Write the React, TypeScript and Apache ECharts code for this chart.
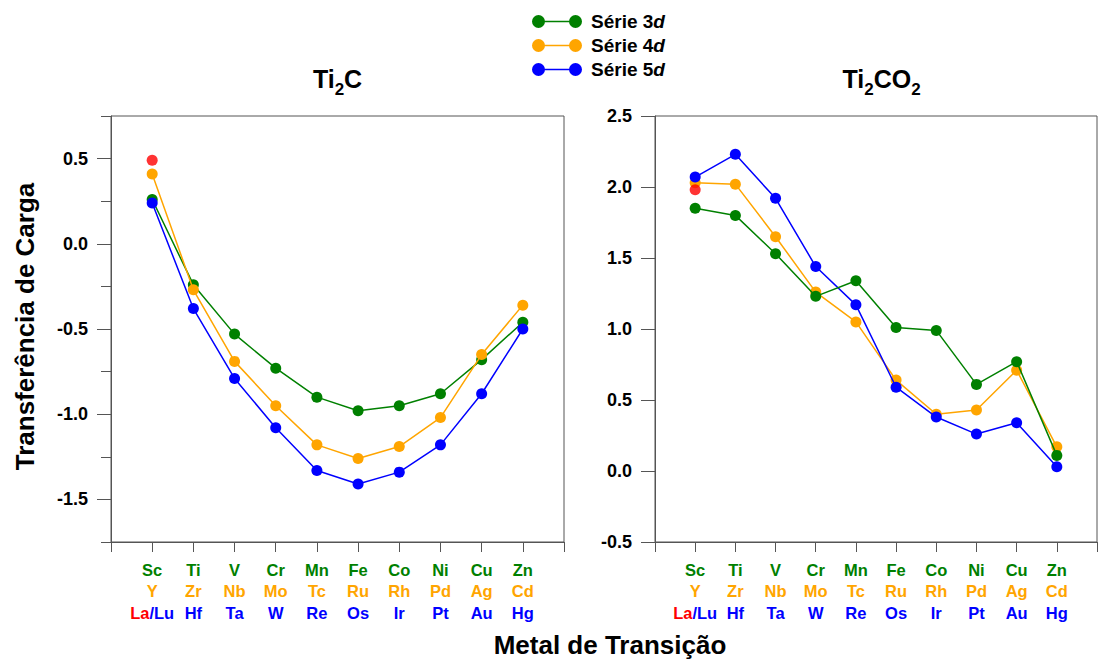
import React, { useEffect, useRef } from 'react';
import * as echarts from 'echarts';

// Transition metals of each row, listed by group (3 to 12)
const metals3d = ['Sc', 'Ti', 'V', 'Cr', 'Mn', 'Fe', 'Co', 'Ni', 'Cu', 'Zn'];
const metals4d = ['Y', 'Zr', 'Nb', 'Mo', 'Tc', 'Ru', 'Rh', 'Pd', 'Ag', 'Cd'];
const metals5d = ['Lu', 'Hf', 'Ta', 'W', 'Re', 'Os', 'Ir', 'Pt', 'Au', 'Hg'];
const lanthanum = 'La';

// Charge transfer, Ti2C
const ti2c3d = [0.26, -0.24, -0.53, -0.73, -0.9, -0.98, -0.95, -0.88, -0.68, -0.46];
const ti2c4d = [0.41, -0.27, -0.69, -0.95, -1.18, -1.26, -1.19, -1.02, -0.65, -0.36];
const ti2c5d = [0.24, -0.38, -0.79, -1.08, -1.33, -1.41, -1.34, -1.18, -0.88, -0.5];
const ti2cLa = 0.49;

// Charge transfer, Ti2CO2
const ti2co23d = [1.85, 1.8, 1.53, 1.23, 1.34, 1.01, 0.99, 0.61, 0.77, 0.11];
const ti2co24d = [2.03, 2.02, 1.65, 1.26, 1.05, 0.64, 0.4, 0.43, 0.71, 0.17];
const ti2co25d = [2.07, 2.23, 1.92, 1.44, 1.17, 0.59, 0.38, 0.26, 0.34, 0.03];
const ti2co2La = 1.98;

const seriesNames = ['Série 3d', 'Série 4d', 'Série 5d'];
const leftMajorTicks = [-1.5, -1.0, -0.5, 0.0, 0.5];

const GREEN = '#008000';
const ORANGE = '#FFA500';
const BLUE = '#0000FF';
const RED = '#FF0000';
const AXIS = '#555555';
const FONT = '"Liberation Sans", Arial, Helvetica, sans-serif';

const toPoints = (vals: number[]) => vals.map((v, i) => [i + 1, v]);

const xRow = (color: string) => ({ color, fontWeight: 'bold', fontSize: 16.5, lineHeight: 21.5, fontFamily: FONT });
const xLabelRich = { g: xRow(GREEN), o: xRow(ORANGE), b: xRow(BLUE), r: xRow(RED) };

const xLabel = (v: number) => {
  const i = Math.round(v) - 1;
  if (i < 0 || i >= metals3d.length) return '';
  const last = i === 0 ? `{r|${lanthanum}}{b|/${metals5d[i]}}` : `{b|${metals5d[i]}}`;
  return `{g|${metals3d[i]}}\n{o|${metals4d[i]}}\n${last}`;
};

const titleRich = {
  m: { fontSize: 25, fontWeight: 'bold', fontFamily: FONT, color: '#000', height: 25, verticalAlign: 'top' },
  s: { fontSize: 17, fontWeight: 'bold', fontFamily: FONT, color: '#000', height: 46, verticalAlign: 'top' },
};

// Legend glyph: a short line with a dot at each end
const legendIcon =
  'path://M0,6.5 a6.5,6.5 0 1,1 13,0 a6.5,6.5 0 1,1 -13,0 Z ' +
  'M37,6.5 a6.5,6.5 0 1,1 13,0 a6.5,6.5 0 1,1 -13,0 Z ' +
  'M12,5.75 L38,5.75 L38,7.25 L12,7.25 Z';

function xAxisFor(gridIndex: number) {
  return {
    type: 'value',
    gridIndex,
    position: 'bottom',
    min: 0,
    max: 11,
    interval: 1,
    axisLine: { show: true, onZero: false, lineStyle: { color: AXIS, width: 1 } },
    axisTick: { show: true, length: 10, lineStyle: { color: AXIS } },
    splitLine: { show: false },
    axisLabel: { formatter: xLabel, rich: xLabelRich, margin: 17, showMinLabel: true, showMaxLabel: true },
  };
}

function lineSeries(name: string, color: string, vals: number[], axisIdx: number, yIdx: number, z: number) {
  return {
    type: 'line',
    name,
    xAxisIndex: axisIdx,
    yAxisIndex: yIdx,
    data: toPoints(vals),
    symbol: 'circle',
    symbolSize: 11,
    z,
    itemStyle: { color },
    lineStyle: { color, width: 1.5 },
  };
}

export default function App() {
  const ref = useRef<HTMLDivElement>(null);

  useEffect(() => {
    if (!ref.current) return;
    const chart = echarts.init(ref.current, null, { renderer: 'svg' });
    const option = {
      animation: false,
      backgroundColor: '#ffffff',
      textStyle: { fontFamily: FONT },
      legend: {
        data: seriesNames,
        orient: 'vertical',
        left: 532,
        top: 12,
        padding: 0,
        itemWidth: 50,
        itemHeight: 13,
        itemGap: 5,
        icon: legendIcon,
        selectedMode: false,
        formatter: (n: string) => n.replace(/d$/, '') + '{i|d}',
        textStyle: {
          fontSize: 19,
          fontWeight: 'bold',
          color: '#000',
          fontFamily: FONT,
          lineHeight: 19,
          padding: [0, 0, 0, 4],
          rich: { i: { fontSize: 19, fontWeight: 'bold', fontStyle: 'italic', color: '#000', fontFamily: FONT } },
        },
      },
      grid: [
        { left: 111, top: 116, width: 453, height: 426, show: true, borderColor: AXIS, borderWidth: 1, backgroundColor: 'transparent' },
        { left: 655, top: 116, width: 453, height: 426, show: true, borderColor: AXIS, borderWidth: 1, backgroundColor: 'transparent' },
      ],
      xAxis: [xAxisFor(0), xAxisFor(1)],
      yAxis: [
        {
          type: 'value',
          gridIndex: 0,
          position: 'left',
          min: -1.75,
          max: 0.75,
          interval: 0.25,
          axisLine: { show: true, onZero: false, lineStyle: { color: AXIS } },
          axisTick: { show: true, length: 10, lineStyle: { color: AXIS } },
          splitLine: { show: false },
          axisLabel: {
            margin: 23,
            fontSize: 18,
            fontWeight: 'bold',
            color: '#000',
            fontFamily: FONT,
            formatter: (v: number) => (Math.abs(v * 2 - Math.round(v * 2)) < 1e-6 ? v.toFixed(1) : ''),
          },
        },
        {
          // longer ticks at the labelled values
          type: 'value',
          gridIndex: 0,
          position: 'left',
          offset: 0,
          min: -1.75,
          max: 0.75,
          interval: 0.25,
          axisLine: { show: false, onZero: false },
          axisTick: { show: true, length: 14, customValues: leftMajorTicks, lineStyle: { color: AXIS } },
          axisLabel: { show: false },
          splitLine: { show: false },
        },
        {
          type: 'value',
          gridIndex: 1,
          position: 'left',
          min: -0.5,
          max: 2.5,
          interval: 0.5,
          axisLine: { show: true, onZero: false, lineStyle: { color: AXIS } },
          axisTick: { show: true, length: 14, lineStyle: { color: AXIS } },
          splitLine: { show: false },
          axisLabel: {
            margin: 23,
            fontSize: 18,
            fontWeight: 'bold',
            color: '#000',
            fontFamily: FONT,
            formatter: (v: number) => v.toFixed(1),
          },
        },
      ],
      series: [
        lineSeries(seriesNames[0], GREEN, ti2c3d, 0, 0, 2),
        lineSeries(seriesNames[1], ORANGE, ti2c4d, 0, 0, 3),
        lineSeries(seriesNames[2], BLUE, ti2c5d, 0, 0, 4),
        {
          type: 'scatter',
          name: lanthanum,
          xAxisIndex: 0,
          yAxisIndex: 0,
          data: [[1, ti2cLa]],
          symbol: 'circle',
          symbolSize: 11,
          z: 5,
          itemStyle: { color: RED },
        },
        lineSeries(seriesNames[1], ORANGE, ti2co24d, 1, 2, 2),
        lineSeries(seriesNames[2], BLUE, ti2co25d, 1, 2, 3),
        lineSeries(seriesNames[0], GREEN, ti2co23d, 1, 2, 4),
        {
          type: 'scatter',
          name: lanthanum,
          xAxisIndex: 1,
          yAxisIndex: 2,
          data: [[1, ti2co2La]],
          symbol: 'circle',
          symbolSize: 11,
          z: 5,
          itemStyle: { color: RED },
        },
      ],
      graphic: [
        {
          type: 'text',
          x: 337.5,
          y: 66,
          style: { text: '{m|Ti}{s|2}{m|C}', rich: titleRich, align: 'center', verticalAlign: 'top' },
        },
        {
          type: 'text',
          x: 881.5,
          y: 66,
          style: { text: '{m|Ti}{s|2}{m|CO}{s|2}', rich: titleRich, align: 'center', verticalAlign: 'top' },
        },
        {
          type: 'text',
          x: 25,
          y: 326.5,
          rotation: Math.PI / 2,
          style: {
            text: 'Transferência de Carga',
            fontSize: 26,
            fontWeight: 'bold',
            fontFamily: FONT,
            fill: '#000',
            align: 'center',
            verticalAlign: 'middle',
          },
        },
        {
          type: 'text',
          x: 610,
          y: 645,
          style: {
            text: 'Metal de Transição',
            fontSize: 26,
            fontWeight: 'bold',
            fontFamily: FONT,
            fill: '#000',
            align: 'center',
            verticalAlign: 'middle',
          },
        },
      ],
    };
    chart.setOption(option as any);
    return () => chart.dispose();
  }, []);

  return (
    <div
      ref={ref}
      style={{ position: 'fixed', left: 0, top: 0, width: 1100, height: 662, background: '#fff', overflow: 'hidden' }}
    />
  );
}
